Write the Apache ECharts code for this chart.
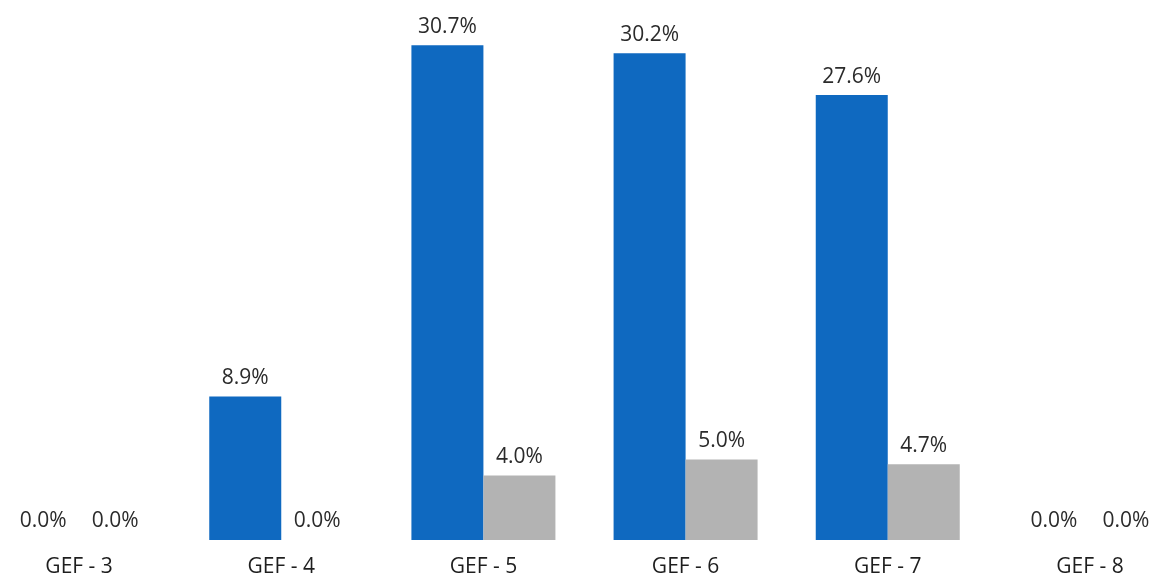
<!DOCTYPE html>
<html>
<head>
<meta charset="utf-8">
<script src="https://cdn.jsdelivr.net/npm/echarts@6/dist/echarts.min.js"></script>
<style>html,body{margin:0;padding:0;background:#fff;overflow:hidden}#c{width:1213px;height:578px;margin-left:-22px}</style>
</head>
<body>
<div id="c"></div>
<script>
const categories = ['GEF - 3', 'GEF - 4', 'GEF - 5', 'GEF - 6', 'GEF - 7', 'GEF - 8'];
const seriesA = [0.0, 8.9, 30.7, 30.2, 27.6, 0.0];
const seriesB = [0.0, 0.0, 4.0, 5.0, 4.7, 0.0];

const chart = echarts.init(document.getElementById('c'));
const labelStyle = {
  show: true, position: 'top', distance: 8,
  color: '#2b2b2b', fontSize: 21, fontFamily: 'Open Sans',
  formatter: p => p.value.toFixed(1) + '%'
};
chart.setOption({
  animation: false,
  grid: { left: 0, right: 0, top: 0, bottom: 38, containLabel: false },
  xAxis: {
    type: 'category', data: categories,
    axisLine: { show: false }, axisTick: { show: false },
    axisLabel: { color: '#1e1e1e', fontSize: 21, fontFamily: 'Open Sans', margin: 17 }
  },
  yAxis: { type: 'value', min: 0, max: 33.5, show: false, splitLine: { show: false } },
  series: [
    { type: 'bar', data: seriesA, barWidth: 72, barGap: '0%', itemStyle: { color: '#0F69C0' }, label: labelStyle },
    { type: 'bar', data: seriesB, barWidth: 72, barGap: '0%', itemStyle: { color: '#B3B3B3' }, label: labelStyle }
  ]
});
</script>
</body>
</html>
